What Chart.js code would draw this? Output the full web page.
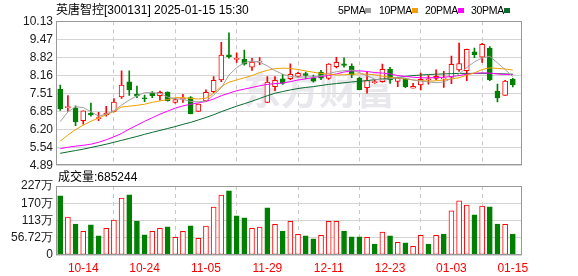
<!DOCTYPE html>
<html><head><meta charset="utf-8">
<script src="https://cdn.jsdelivr.net/npm/chart.js@4.4.1/dist/chart.umd.min.js"></script>
<style>
html,body{margin:0;padding:0;background:#fff;width:578px;height:276px;overflow:hidden;position:relative;}
canvas{position:absolute;left:0;}
#c1{top:0;width:578px;height:180px;}
#c2{top:168px;width:578px;height:108px;}
.t{position:absolute;white-space:nowrap;font-family:'Liberation Sans','Noto Sans CJK SC',sans-serif;color:#000;line-height:14px;}
.sq{position:absolute;width:6px;height:5px;}
</style></head><body>
<canvas id="c1" width="578" height="180"></canvas>
<canvas id="c2" width="578" height="108"></canvas>
<div class="t" style="left:56px;top:3px;font-size:12px;">英唐智控[300131] 2025-01-15 15:30</div>
<div class="t" id="lg" style="left:0;top:3px;font-size:10.5px;"></div>
<div class="t" style="left:58px;top:170px;font-size:12px;">成交量:685244</div>
<script>
// ---- data ----
const dates = ['10-09','10-10','10-11','10-14','10-15','10-16','10-17','10-18','10-21','10-22','10-23','10-24','10-25','10-28','10-29','10-30','10-31','11-01','11-04','11-05','11-06','11-07','11-08','11-11','11-26','11-27','11-28','11-29','12-02','12-03','12-04','12-05','12-06','12-09','12-10','12-11','12-12','12-13','12-16','12-17','12-18','12-19','12-20','12-23','12-24','12-25','12-26','12-27','12-30','12-31','01-02','01-03','01-06','01-07','01-08','01-09','01-10','01-13','01-14','01-15'];
const xTickDates = ['10-14','10-24','11-05','11-29','12-11','12-23','01-03','01-15'];
const opens  = [7.67,7.00,6.98,6.52,6.79,6.60,6.73,6.86,7.39,7.93,7.49,7.35,7.52,7.43,7.56,7.19,7.30,7.36,6.86,7.24,7.58,8.00,8.91,8.75,8.75,8.47,8.65,7.19,7.76,8.04,8.05,8.13,8.23,8.06,8.28,8.06,8.48,8.59,8.50,8.07,7.72,7.90,7.94,8.39,7.95,8.04,7.70,7.82,8.01,8.06,8.04,8.10,8.37,8.34,9.02,8.83,9.16,7.60,7.44,8.02];
const highs  = [7.82,7.43,7.06,6.88,7.16,6.83,7.04,7.33,8.33,8.33,7.78,7.45,7.58,7.60,7.57,7.33,7.48,7.40,7.13,7.64,8.12,9.37,9.71,8.99,9.09,8.79,8.81,8.12,8.12,8.21,8.59,8.28,8.29,8.18,8.35,8.60,8.82,8.80,8.59,8.11,8.29,8.01,8.58,8.46,8.11,8.06,7.88,8.25,8.16,8.37,8.31,8.87,9.34,9.12,9.16,9.33,9.21,7.85,7.99,8.06];
const lows   = [6.90,6.87,6.34,6.40,6.69,6.52,6.69,6.84,7.33,7.44,7.36,7.21,7.36,7.27,7.23,7.16,7.19,6.77,6.86,7.21,7.54,7.94,8.79,8.64,8.54,8.35,8.56,7.18,7.61,7.84,8.01,8.10,8.05,7.92,8.01,8.02,8.44,8.47,8.08,7.64,7.52,7.88,7.92,7.88,7.76,7.72,7.70,7.64,7.85,8.00,7.73,7.87,8.31,7.98,8.81,8.64,7.98,7.20,7.44,7.75];
const closes = [6.95,7.01,6.48,6.88,6.73,6.63,6.80,7.20,7.82,7.64,7.42,7.32,7.43,7.55,7.25,7.29,7.32,6.78,7.13,7.55,7.99,8.90,8.85,8.77,8.57,8.65,8.67,7.92,7.99,7.88,8.21,8.24,8.17,7.96,8.07,8.58,8.64,8.53,8.18,7.65,7.98,7.94,8.39,8.00,8.08,7.76,7.77,8.02,8.04,8.13,8.07,8.57,8.60,9.11,8.92,9.29,8.00,7.35,7.96,7.82];
const ma5  = [6.49,6.84,7.03,7.00,6.85,6.69,6.76,6.88,7.09,7.27,7.43,7.54,7.54,7.52,7.38,7.32,7.30,7.22,7.21,7.23,7.45,7.72,8.18,8.45,8.63,8.69,8.65,8.51,8.34,8.21,8.13,8.10,8.11,8.12,8.15,8.24,8.30,8.34,8.36,8.27,8.15,8.03,8.00,8.05,8.08,8.07,8.00,7.96,7.93,7.90,7.93,8.05,8.22,8.45,8.66,8.80,8.86,8.62,8.38,8.12];
const ma10 = [5.78,6.00,6.20,6.36,6.50,6.62,6.74,6.86,7.02,7.05,7.08,7.12,7.19,7.24,7.29,7.36,7.36,7.33,7.31,7.34,7.52,7.76,7.92,8.00,8.08,8.16,8.27,8.35,8.41,8.43,8.42,8.38,8.33,8.28,8.24,8.21,8.18,8.19,8.21,8.22,8.21,8.19,8.14,8.10,8.07,8.04,8.00,7.98,7.96,7.97,8.00,8.04,8.08,8.18,8.26,8.38,8.44,8.42,8.40,8.36];
const ma20 = [5.51,5.56,5.60,5.63,5.67,5.74,5.83,5.94,6.06,6.22,6.36,6.50,6.63,6.76,6.87,6.98,7.06,7.12,7.17,7.22,7.31,7.43,7.52,7.61,7.67,7.73,7.79,7.84,7.87,7.89,7.94,8.00,8.04,8.09,8.13,8.16,8.22,8.29,8.33,8.33,8.31,8.27,8.25,8.22,8.16,8.13,8.10,8.08,8.08,8.09,8.10,8.13,8.16,8.21,8.24,8.26,8.25,8.22,8.20,8.20];
const ma30 = [5.34,5.39,5.44,5.49,5.55,5.61,5.67,5.74,5.81,5.88,5.95,6.03,6.10,6.17,6.24,6.31,6.39,6.46,6.55,6.64,6.74,6.85,6.95,7.05,7.14,7.23,7.33,7.43,7.52,7.58,7.64,7.69,7.73,7.76,7.80,7.84,7.87,7.90,7.93,7.95,7.98,8.01,8.04,8.05,8.09,8.13,8.16,8.18,8.20,8.21,8.22,8.23,8.24,8.24,8.24,8.24,8.24,8.23,8.22,8.21];
const volumes = [195,125,102,78,99,63,88,115,187,198,112,66,78,88,92.5,58.5,78,96,55,95,157.5,197,211,129,122,88,91.5,155,101,79,111,68,63,53,65,111,111,79,59.5,59.5,58.5,36,75,63,42,40,28.7,65,36,65,69,145,178,164,132,161,158.6,102,101,68.5244];
const volUp = [0,1,0,1,0,0,1,1,1,0,0,0,1,1,0,1,1,0,1,1,1,1,0,0,0,1,1,0,1,0,1,1,0,0,1,1,1,0,0,0,1,0,1,0,1,0,1,1,0,1,0,1,1,1,0,1,0,0,1,0];
const priceTicks = ['4.89','5.54','6.20','6.85','7.51','8.16','8.82','9.47','10.13'];
const volTicks = ['0','56.72万','113万','170万','227万'];
const maNames = ['5PMA','10PMA','20PMA','30PMA'];
const maColors = ['#a0a0a0','#f0a000','#ff00ff','#0a6a30'];

// ---- legend ----
const lgPos = [338,379,425,471];
const lg = document.getElementById('lg');
maNames.forEach((n,k)=>{
  const s=document.createElement('span'); s.className='t'; s.style.left=lgPos[k]+'px'; s.style.top='0px'; s.textContent=n; s.style.letterSpacing='-0.3px'; lg.appendChild(s);
  const q=document.createElement('span'); q.className='sq'; q.style.background=maColors[k];
  q.style.left=(lgPos[k]+(n.length===4?27:33))+'px'; q.style.top='5px'; lg.appendChild(q);
});

// ---- helpers ----
const RED='#ff0000', GRN='#008000';
const pts = a => a.map((v,i)=>({x:i,y:v}));
const up = closes.map((c,i)=>c>=opens[i]);
const tickIdx = xTickDates.map(d=>dates.indexOf(d));
const XMIN=-0.55, XMAX=60.2;
const labelFont = {family:"'Liberation Sans', sans-serif", size:12};

const boxPlugin = {id:'box', afterDraw(c){const a=c.chartArea,ctx=c.ctx;ctx.save();ctx.strokeStyle='#999';ctx.lineWidth=1;
  ctx.strokeRect(Math.round(a.left)+0.5,Math.round(a.top)+0.5,Math.round(a.right-a.left)-1,Math.round(a.bottom-a.top)-1);ctx.restore();}};
const wmPlugin = {id:'wm', beforeDatasetsDraw(c){const ctx=c.ctx;ctx.save();ctx.font="bold 38px 'Noto Sans CJK SC'";
  ctx.fillStyle='rgba(222,222,230,0.7)';ctx.textBaseline='middle';ctx.fillText('东方财富',243,90);ctx.restore();}};

function xScale(labels){
  return {type:'linear', min:XMIN, max:XMAX, offset:false,
    afterBuildTicks:s=>{s.ticks=tickIdx.map(v=>({value:v}));},
    afterFit:s=>{s.height = labels?21:0;},
    grid:{color:'#c8c8c8', lineWidth:1, drawTicks:false},
    border:{display:false, dash:[4,4]},
    ticks: labels ? {autoSkip:false, maxRotation:0, padding:6, color:RED, font:labelFont,
      callback:v=>dates[v]} : {display:false}};
}

// ---- price chart ----
new Chart(document.getElementById('c1'), {
  data:{datasets:[
    ...[ma5,ma10,ma20,ma30].map((m,k)=>({type:'line', data:pts(m), borderColor:maColors[k], borderWidth:1, pointRadius:0, tension:0, fill:false})),
    {type:'bar', data:opens.map((o,i)=>({x:i,y:[o,closes[i]]})), grouped:false, barThickness:5, minBarLength:1,
     backgroundColor:up.map(u=>u?'#ffffff':GRN), borderColor:up.map(u=>u?RED:GRN), borderWidth:1, borderSkipped:false},
    {type:'bar', data:lows.map((l,i)=>({x:i,y:[l,highs[i]]})), grouped:false, barThickness:1,
     backgroundColor:up.map(u=>u?RED:GRN), borderWidth:0}
  ]},
  options:{responsive:false, animation:false, devicePixelRatio:1,
    layout:{padding:{left:0,right:56,top:21.3,bottom:14.3}},
    plugins:{legend:{display:false}, tooltip:{enabled:false}},
    scales:{
      x:xScale(false),
      y:{min:4.89, max:10.13,
        afterBuildTicks:s=>{s.ticks=priceTicks.map((t,k)=>({value:4.89+k*(10.13-4.89)/8}));},
        afterFit:s=>{s.width=56;},
        grid:{color:'#d4d4d4', drawTicks:false}, border:{display:false},
        ticks:{autoSkip:false, padding:3, color:'#1a1a1a', font:labelFont, callback:(v,i)=>priceTicks[i]}}
    }},
  plugins:[wmPlugin, boxPlugin]
});

// ---- volume chart ----
new Chart(document.getElementById('c2'), {
  data:{datasets:[
    {type:'bar', data:pts(volumes), grouped:false, barThickness:5,
     backgroundColor:volUp.map(u=>u?'#ffffff':GRN), borderColor:volUp.map(u=>u?RED:GRN), borderWidth:1, borderSkipped:false}
  ]},
  options:{responsive:false, animation:false, devicePixelRatio:1,
    layout:{padding:{left:0,right:56,top:18,bottom:0}},
    plugins:{legend:{display:false}, tooltip:{enabled:false}},
    scales:{
      x:xScale(true),
      y:{min:0, max:227,
        afterBuildTicks:s=>{s.ticks=volTicks.map((t,k)=>({value:k*227/4}));},
        afterFit:s=>{s.width=56;},
        grid:{color:'#d4d4d4', drawTicks:false}, border:{display:false},
        ticks:{autoSkip:false, padding:3, color:'#1a1a1a', font:labelFont, callback:(v,i)=>volTicks[i]}}
    }},
  plugins:[boxPlugin]
});
</script>
</body></html>
